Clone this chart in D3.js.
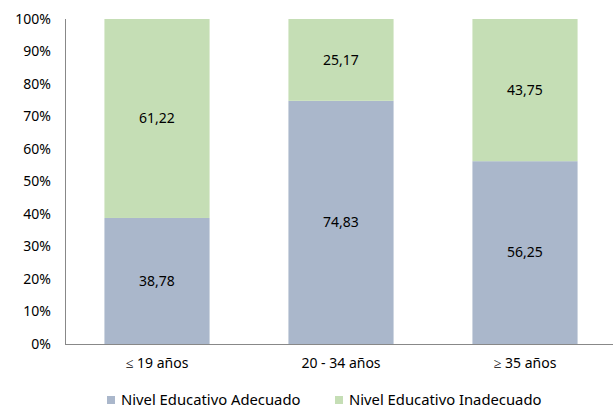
<!DOCTYPE html>
<html><head><meta charset="utf-8">
<script src="https://cdn.jsdelivr.net/npm/d3@7"></script>
<style>
html,body{margin:0;padding:0;background:#fff;}
svg{display:block;font-family:"Noto Sans",sans-serif;}
</style></head>
<body><svg id="c" width="613" height="409"></svg>
<script>
const categories = ["≤ 19 años", "20 - 34 años", "≥ 35 años"];
const adecuado = [38.78, 74.83, 56.25];
const inadecuado = [61.22, 25.17, 43.75];
const seriesNames = ["Nivel Educativo Adecuado", "Nivel Educativo Inadecuado"];
const yTicks = [0, 10, 20, 30, 40, 50, 60, 70, 80, 90, 100];
const colors = ["#AAB7CB", "#C5DEB5"];

(function () {
const svg = d3.select("#c");
const pL = 65, pR = 617, pT = 19, pB = 344;

const x = d3.scaleBand().domain(categories).range([pL, pR]).paddingInner(0.75/1.75).paddingOuter(0.75/1.75/2);
const y = d3.scaleLinear().domain([0, 100]).range([pB, pT]);

const rows = categories.map((c, i) => ({cat: c, a: adecuado[i], b: inadecuado[i]}));
const stack = d3.stack().keys(["a", "b"])(rows);

const yAxis = d3.axisLeft(y).tickValues(yTicks).tickFormat(d => d + "%").tickSize(0).tickPadding(14);
const gy = svg.append("g").attr("transform", `translate(${pL},0)`).call(yAxis);
gy.select(".domain").attr("stroke", "#888").attr("d", `M0.5,${pT}V${pB}`);
gy.selectAll("text").attr("font-size", 14).attr("fill", "#000").attr("font-family", "Noto Sans");

stack.forEach((s, si) => {
  svg.append("g").selectAll("rect").data(s).join("rect")
    .attr("x", d => x(d.data.cat))
    .attr("width", x.bandwidth())
    .attr("y", d => y(d[1]))
    .attr("height", d => y(d[0]) - y(d[1]))
    .attr("fill", colors[si]);
  svg.append("g").selectAll("text").data(s).join("text")
    .attr("x", d => x(d.data.cat) + x.bandwidth() / 2)
    .attr("y", d => (y(d[0]) + y(d[1])) / 2)
    .attr("dy", "0.35em")
    .attr("text-anchor", "middle")
    .attr("font-size", 14)
    .attr("fill", "#000")
    .text(d => (d[1] - d[0]).toFixed(2).replace(".", ","));
});

const xAxis = d3.axisBottom(x).tickSize(0).tickPadding(14);
const gx = svg.append("g").attr("transform", `translate(0,${pB})`).call(xAxis);
gx.select(".domain").attr("stroke", "#888").attr("d", `M${pL},0.5H613`);
gx.selectAll("text").attr("font-size", 14).attr("fill", "#000").attr("font-family", "Noto Sans");

const legX = [107, 335];
const lg = svg.append("g");
seriesNames.forEach((n, i) => {
  lg.append("rect").attr("x", legX[i]).attr("y", 396).attr("width", 8).attr("height", 8).attr("fill", colors[i]);
  lg.append("text").attr("x", legX[i] + 14).attr("y", 405).attr("font-size", 14.8).attr("fill", "#000").text(n);
});
})();
</script></body></html>
